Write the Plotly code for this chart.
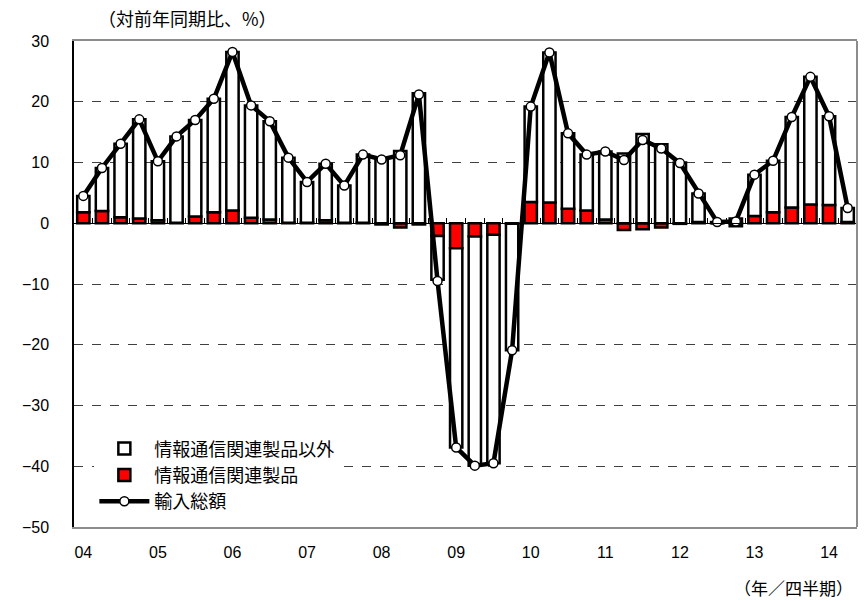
import plotly.graph_objects as go

# Quarterly periods, 2004 Q1 - 2014 Q2
years = [f"{y:02d}" for y in range(4, 15)]
quarters = [f"{y}Q{q}" for y in years for q in range(1, 5)][:42]

# Contribution of ICT-related products (red bars, % points)
ict = [1.8, 2.0, 1.0, 0.8, 0.5, 0.1, 1.1, 1.8, 2.1, 0.9, 0.6, 0.1,
       0.1, 0.5, 0.1, 0.1, -0.2, -0.7, -0.2, -2.1, -4.1, -2.2, -1.9, -0.1,
       3.5, 3.4, 2.4, 2.1, 0.6, -1.1, -1.0, -0.7, -0.1, 0.2, 0.0, -0.5,
       1.2, 1.8, 2.6, 3.1, 3.0, 0.2]

# Contribution of all other products (white bars, % points)
non_ict = [2.7, 7.1, 12.1, 16.3, 9.7, 14.2, 15.9, 18.7, 26.1, 18.5, 16.2, 10.7,
           6.7, 9.3, 6.1, 11.2, 10.7, 11.9, 21.4, -7.2, -32.8, -37.7, -37.6, -20.8,
           15.7, 24.7, 12.4, 9.2, 11.2, 11.5, 14.7, 13.0, 10.0, 4.7, 0.2, 0.8,
           6.8, 8.5, 14.9, 21.0, 14.6, 2.3]

# Total imports, year-on-year change (%)
total = [4.5, 9.1, 13.1, 17.1, 10.2, 14.3, 17.0, 20.5, 28.2, 19.4, 16.8, 10.8,
         6.8, 9.8, 6.2, 11.3, 10.5, 11.2, 21.2, -9.5, -36.9, -39.9, -39.5, -20.9,
         19.2, 28.1, 14.8, 11.3, 11.8, 10.4, 13.7, 12.3, 9.9, 4.9, 0.2, 0.3,
         8.0, 10.3, 17.5, 24.1, 17.6, 2.5]

xs = list(range(len(quarters)))
year_ticks = [i for i in xs if i % 4 == 0]
year_labels = years

yticks = list(range(-50, 31, 10))

font_jp = "Noto Sans CJK JP"
font_num = "Liberation Sans"

fig = go.Figure()

fig.add_trace(go.Bar(
    x=xs, y=ict, name="情報通信関連製品",
    marker=dict(color="#FF0000", line=dict(color="black", width=2.5)),
    width=0.66, legendrank=2,
))
fig.add_trace(go.Bar(
    x=xs, y=non_ict, name="情報通信関連製品以外",
    marker=dict(color="white", line=dict(color="black", width=2.5)),
    width=0.66, legendrank=1,
))
fig.add_trace(go.Scatter(
    x=xs, y=total, name="輸入総額", mode="lines+markers",
    line=dict(color="black", width=4.5),
    marker=dict(symbol="circle", size=9, color="white",
                line=dict(color="black", width=1.5)),
    legendrank=3,
))
# invisible anchor trace for the zero-line category axis
fig.add_trace(go.Scatter(
    x=[0], y=[0], xaxis="x2", mode="markers",
    marker=dict(opacity=0), showlegend=False, hoverinfo="skip",
))

x_range = [-0.5, len(xs) - 0.5]

fig.update_layout(
    width=868, height=601,
    margin=dict(l=74, r=11, t=41, b=74),
    paper_bgcolor="white", plot_bgcolor="white",
    barmode="relative", bargap=0.3,
    showlegend=True,
    legend=dict(
        x=0.026, y=0.199, xanchor="left", yanchor="top",
        bgcolor="white", borderwidth=0,
        font=dict(family=font_jp, size=18, color="black"),
        itemwidth=50, tracegroupgap=0,
    ),
    xaxis=dict(
        range=x_range, tickmode="array", tickvals=year_ticks, ticktext=year_labels,
        showgrid=False, zeroline=False,
        showline=True, linecolor="#8c8c8c", linewidth=2, mirror=True,
        ticks="", ticklabelstandoff=10,
        tickfont=dict(family=font_num, size=16, color="black"),
    ),
    xaxis2=dict(
        range=x_range, overlaying="x", anchor="free", position=0.625,
        side="bottom", showticklabels=False,
        tickmode="array", tickvals=[i + 0.5 for i in xs[:-1]],
        ticks="inside", ticklen=5, tickwidth=1, tickcolor="black",
        showline=True, linecolor="black", linewidth=1,
        showgrid=False, zeroline=False,
    ),
    yaxis=dict(
        range=[-50, 30], tickmode="array", tickvals=yticks,
        showgrid=True, gridcolor="#404040", gridwidth=1, griddash="dash",
        zeroline=False,
        showline=True, linecolor="black", linewidth=1.5,
        ticks="", ticklabelstandoff=20,
        tickfont=dict(family=font_num, size=16, color="black"),
    ),
    shapes=[dict(type="line", xref="paper", yref="paper", x0=1, x1=1, y0=0, y1=1,
                 line=dict(color="#8c8c8c", width=2))],
    annotations=[
        dict(text="（対前年同期比、%）", xref="paper", yref="paper",
             x=0.028, y=1.047, xanchor="left", yanchor="middle", showarrow=False,
             font=dict(family=font_jp, size=18, color="black")),
        dict(text="（年／四半期）", xref="paper", yref="paper",
             x=0.998, y=-0.124, xanchor="right", yanchor="middle", showarrow=False,
             font=dict(family=font_jp, size=17, color="black")),
    ],
)

fig.write_html("out.html")
